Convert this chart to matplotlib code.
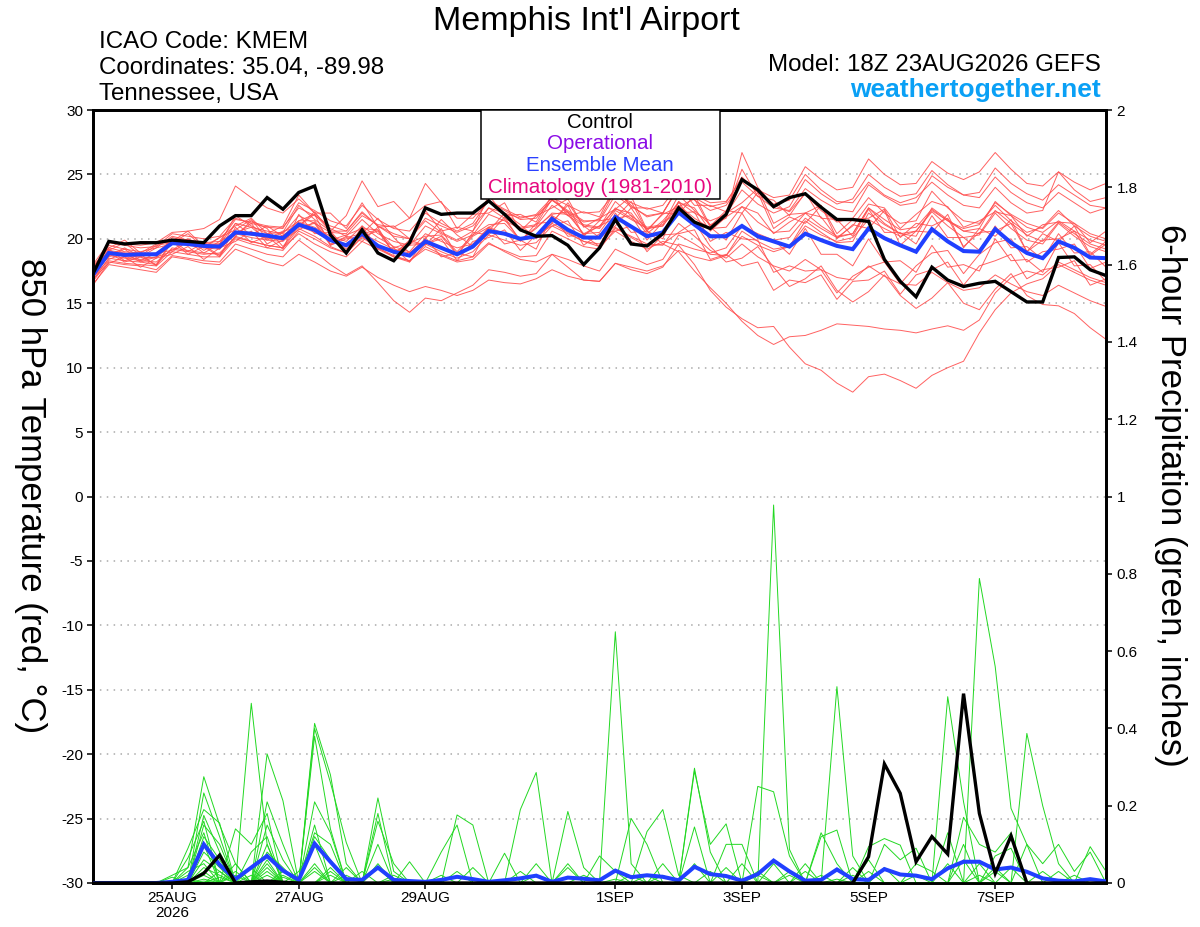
import numpy as np
import matplotlib.pyplot as plt
from matplotlib.patches import Rectangle

plt.rcParams['font.family'] = ['Liberation Sans', 'DejaVu Sans']

# x axis: 6-hourly steps starting 18Z 23AUG2026 (65 steps)
tick_steps = [5, 13, 21, 33, 41, 49, 57]
tick_labels = ['25AUG\n2026', '27AUG', '29AUG', '1SEP', '3SEP', '5SEP', '7SEP']
temp_ticks = [-30, -25, -20, -15, -10, -5, 0, 5, 10, 15, 20, 25, 30]
precip_ticks = [0, 0.2, 0.4, 0.6, 0.8, 1.0, 1.2, 1.4, 1.6, 1.8, 2.0]
precip_labels = ['0', '0.2', '0.4', '0.6', '0.8', '1', '1.2', '1.4', '1.6', '1.8', '2']

# control run, 850 hPa temperature (C)
control_temp = [17.3,
    19.8, 19.6, 19.7, 19.7, 19.9, 19.8, 19.7, 21.0, 21.8, 21.8, 23.2, 22.3, 23.6, 24.1, 20.3, 18.9,
    20.7, 18.9, 18.3, 19.7, 22.4, 21.9, 22.0, 22.0, 22.95, 21.9, 20.7, 20.2, 20.25, 19.5, 18.0, 19.3,
    21.5, 19.6, 19.45, 20.4, 22.4, 21.3, 20.8, 21.9, 24.6, 23.8, 22.5, 23.2, 23.5, 22.45, 21.5, 21.5,
    21.35, 18.4, 16.7, 15.5, 17.8, 16.8, 16.3, 16.55, 16.7, 15.9, 15.1, 15.1, 18.55, 18.6, 17.6, 17.15]

# ensemble mean, 850 hPa temperature (C)
mean_temp = [17.2,
    18.9, 18.75, 18.8, 18.8, 19.66, 19.6, 19.45, 19.4, 20.5, 20.4, 20.25, 20.05, 21.1, 20.7, 19.9, 19.5,
    20.4, 19.45, 19.0, 18.7, 19.8, 19.3, 18.8, 19.4, 20.6, 20.4, 20.0, 20.2, 21.55, 20.7, 20.1, 20.1,
    21.7, 20.95, 20.2, 20.5, 22.05, 21.1, 20.2, 20.2, 21.0, 20.2, 19.8, 19.4, 20.4, 19.9, 19.45, 19.2,
    20.8, 20.05, 19.5, 19.0, 20.75, 19.8, 19.05, 19.0, 20.75, 19.7, 18.9, 18.5, 19.8, 19.3, 18.55, 18.5]

# ensemble members, 850 hPa temperature (C)
mem01_temp = [17.5,
    19.5, 19.2, 19.0, 19.3, 20.2, 19.9, 19.7, 19.8, 21.5, 21.3, 21.0, 20.9, 22.4, 21.8, 21.0, 20.6,
    22.0, 21.0, 20.4, 20.0, 21.6, 21.0, 20.5, 21.0, 22.4, 22.0, 21.6, 21.9, 23.2, 22.6, 22.0, 22.1,
    23.6, 22.8, 22.3, 22.6, 24.2, 23.4, 22.8, 22.9, 24.6, 23.8, 23.2, 23.4, 25.6, 24.6, 23.8, 24.0,
    26.2, 25.0, 24.2, 24.3, 26.0, 25.1, 24.6, 25.2, 26.7, 25.4, 24.3, 24.1, 25.2, 24.4, 23.8, 24.3]
mem02_temp = [17.0,
    18.4, 18.9, 18.2, 18.6, 19.0, 19.8, 18.9, 19.6, 20.3, 21.2, 19.6, 20.3, 21.0, 21.9, 19.5, 20.2,
    19.8, 20.9, 18.8, 19.9, 19.5, 20.8, 18.7, 20.5, 20.3, 21.7, 19.8, 21.2, 21.3, 22.6, 20.2, 21.4,
    21.6, 22.9, 20.6, 22.0, 21.9, 23.4, 21.0, 22.2, 22.0, 23.6, 20.8, 21.7, 21.2, 22.6, 20.0, 21.1,
    20.8, 22.2, 19.5, 20.6, 20.5, 21.9, 19.3, 20.8, 20.2, 21.5, 19.0, 20.4, 19.8, 21.0, 18.8, 19.8]
mem03_temp = [16.4,
    18.2, 18.0, 17.9, 17.6, 18.7, 18.5, 18.3, 18.2, 19.6, 19.2, 18.8, 18.6, 19.9, 19.0, 18.0, 17.2,
    17.9, 16.6, 15.2, 14.3, 15.4, 15.2, 15.8, 16.4, 17.6, 17.4, 17.1, 17.3, 18.8, 18.4, 17.9, 17.5,
    19.2, 18.6, 18.0, 18.4, 20.3, 19.6, 18.8, 18.7, 20.6, 19.8, 19.2, 19.4, 21.4, 20.5, 19.7, 19.8,
    22.0, 21.1, 20.4, 20.2, 22.4, 21.5, 20.6, 20.4, 22.2, 21.2, 20.3, 19.8, 21.3, 20.4, 19.6, 19.2]
mem04_temp = [17.8,
    19.3, 19.0, 18.9, 18.8, 19.8, 19.6, 19.4, 19.3, 20.6, 20.3, 20.1, 19.9, 21.3, 20.9, 20.2, 19.8,
    21.0, 20.1, 19.4, 19.0, 20.4, 19.8, 19.3, 19.6, 20.9, 20.4, 20.0, 20.1, 21.2, 20.5, 19.8, 19.4,
    20.6, 19.8, 19.2, 19.8, 19.5, 18.0, 16.0, 14.7, 13.8, 13.1, 13.2, 11.6, 10.3, 9.8, 8.8, 8.1,
    9.3, 9.5, 9.0, 8.4, 9.4, 10.0, 10.5, 12.7, 14.5, 15.8, 16.5, 16.9, 18.0, 17.4, 16.8, 16.4]
mem05_temp = [16.8,
    18.5, 18.3, 18.2, 18.0, 19.3, 19.1, 18.9, 18.8, 20.2, 19.8, 19.5, 19.3, 20.8, 20.2, 19.4, 18.9,
    20.2, 19.3, 18.6, 18.2, 19.6, 19.0, 18.5, 19.0, 20.3, 19.9, 19.5, 19.7, 21.0, 20.4, 19.8, 19.6,
    20.9, 20.1, 19.4, 19.6, 19.0, 17.5, 16.2, 15.0, 13.6, 12.5, 11.8, 12.4, 12.5, 12.9, 13.4, 13.3,
    13.2, 13.0, 12.9, 12.7, 13.0, 13.25, 12.9, 13.7, 15.8, 17.0, 17.5, 17.2, 18.2, 17.6, 17.0, 16.6]
mem06_temp = [17.3,
    18.6, 19.2, 18.3, 18.9, 19.1, 20.0, 19.5, 18.7, 20.2, 21.4, 20.8, 19.4, 21.0, 22.1, 20.6, 19.2,
    20.4, 21.6, 20.1, 18.9, 20.0, 21.5, 20.3, 19.4, 20.6, 22.0, 21.1, 20.0, 21.2, 22.8, 21.0, 20.1,
    21.0, 22.4, 20.6, 19.6, 20.5, 21.3, 19.4, 18.2, 18.5, 19.4, 17.8, 16.3, 16.9, 17.9, 16.0, 15.1,
    15.9, 17.2, 15.6, 14.6, 15.4, 16.6, 15.0, 14.5, 16.1, 17.3, 15.6, 14.9, 14.8, 14.2, 13.1, 12.2]
mem07_temp = [17.6,
    19.8, 19.6, 19.5, 19.7, 20.5, 20.6, 20.8, 21.5, 24.1, 23.2, 22.4, 22.0, 23.1, 22.0, 20.8, 20.2,
    21.5, 20.4, 19.8, 19.5, 21.0, 20.4, 19.8, 20.3, 21.9, 21.4, 20.8, 21.0, 22.6, 21.8, 21.0, 20.8,
    22.4, 21.6, 20.8, 21.0, 22.6, 21.6, 20.8, 20.9, 22.5, 21.3, 20.5, 20.6, 22.0, 21.0, 20.2, 20.4,
    22.4, 21.2, 20.4, 20.6, 22.1, 21.0, 20.1, 20.3, 22.0, 20.8, 19.9, 19.6, 21.2, 20.2, 19.4, 19.0]
mem08_temp = [17.1,
    18.9, 18.2, 18.6, 18.0, 19.9, 19.0, 19.7, 19.2, 21.2, 20.3, 21.0, 20.2, 21.4, 21.9, 20.6, 21.8,
    24.5, 22.5, 22.9, 21.6, 22.6, 22.9, 20.8, 21.9, 22.0, 22.8, 20.6, 21.8, 22.4, 23.1, 20.9, 21.6,
    22.3, 23.3, 20.7, 21.9, 22.5, 23.1, 20.9, 22.0, 22.8, 23.9, 21.2, 21.9, 22.0, 22.6, 20.4, 21.5,
    21.6, 22.3, 20.1, 21.2, 21.0, 21.6, 19.4, 20.5, 20.6, 21.2, 19.0, 19.9, 20.0, 20.6, 18.7, 19.6]
mem09_temp = [17.4,
    19.1, 18.9, 18.8, 18.9, 19.9, 19.8, 19.6, 19.6, 21.2, 20.9, 20.6, 20.4, 21.8, 21.2, 20.5, 20.4,
    21.8, 21.1, 20.9, 21.6, 24.3, 22.8, 21.6, 21.6, 22.9, 22.2, 21.5, 21.6, 23.0, 22.1, 21.3, 21.5,
    23.8, 22.6, 21.7, 22.0, 24.0, 23.0, 22.2, 22.6, 24.4, 23.3, 22.4, 22.2, 23.9, 23.0, 22.3, 22.1,
    24.2, 23.3, 22.6, 22.8, 24.9, 24.0, 23.4, 23.2, 24.8, 23.6, 22.8, 22.4, 23.6, 22.8, 22.0, 22.4]
mem10_temp = [16.5,
    18.0, 17.8, 17.6, 17.4, 18.6, 18.4, 18.1, 18.0, 19.2, 18.7, 18.2, 17.9, 18.8, 18.2, 17.5, 17.1,
    17.8, 17.0, 16.4, 15.9, 16.3, 16.0, 15.6, 16.0, 16.8, 16.6, 16.5, 16.9, 17.6, 17.1, 16.8, 16.7,
    18.1, 17.8, 17.5, 17.9, 19.1, 18.6, 18.3, 18.7, 20.2, 19.5, 19.0, 19.4, 21.0, 20.3, 19.8, 20.1,
    21.5, 20.8, 20.2, 20.6, 22.2, 21.4, 20.8, 21.1, 22.8, 21.9, 21.2, 20.8, 22.0, 21.2, 20.4, 20.0]
mem11_temp = [17.0,
    19.0, 18.6, 18.4, 18.6, 20.1, 19.8, 19.5, 19.6, 21.8, 21.0, 20.4, 20.5, 22.6, 21.5, 20.6, 20.6,
    22.1, 21.0, 20.2, 20.0, 21.4, 20.5, 19.9, 20.6, 22.4, 21.6, 20.9, 21.1, 23.1, 22.0, 21.1, 20.9,
    22.9, 21.8, 20.9, 21.1, 23.4, 22.2, 21.1, 21.6, 26.7, 24.0, 22.6, 22.1, 23.5, 22.2, 21.3, 21.6,
    23.2, 22.0, 21.2, 21.4, 23.7, 22.4, 21.4, 21.2, 22.6, 21.4, 20.5, 20.9, 22.2, 21.0, 20.2, 19.8]
mem12_temp = [17.9,
    19.3, 19.9, 18.9, 19.6, 19.8, 20.6, 19.4, 20.1, 20.7, 21.5, 20.0, 20.6, 20.9, 21.2, 19.5, 20.0,
    20.2, 20.6, 18.9, 19.7, 19.6, 20.0, 18.3, 19.8, 20.1, 20.7, 19.1, 20.3, 21.0, 21.4, 19.5, 20.4,
    20.6, 21.0, 19.0, 20.3, 20.4, 20.7, 18.4, 18.8, 17.9, 18.2, 16.0, 16.8, 16.6, 17.2, 15.3, 16.7,
    16.8, 17.5, 15.7, 17.2, 17.6, 18.2, 16.4, 17.9, 18.3, 18.8, 16.9, 17.6, 17.8, 18.3, 16.4, 16.9]
mem13_temp = [17.2,
    18.8, 18.7, 18.6, 18.5, 19.7, 19.5, 19.3, 19.2, 20.4, 20.1, 19.9, 19.8, 21.0, 20.5, 19.9, 19.6,
    20.4, 19.8, 19.2, 18.9, 19.9, 19.3, 18.9, 19.5, 20.8, 20.3, 19.9, 20.1, 21.8, 21.1, 20.4, 20.5,
    22.2, 21.5, 20.8, 21.0, 22.9, 22.0, 21.4, 21.9, 23.8, 22.7, 22.0, 22.5, 24.6, 23.5, 22.7, 23.1,
    25.0, 24.0, 23.3, 23.5, 25.3, 24.2, 23.4, 23.6, 25.5, 24.3, 23.5, 23.0, 24.2, 23.4, 22.6, 22.4]
mem14_temp = [16.9,
    18.1, 18.6, 17.8, 18.5, 18.8, 19.4, 18.4, 19.3, 19.8, 20.6, 19.3, 19.9, 20.7, 21.3, 19.6, 20.1,
    20.4, 20.7, 18.9, 19.5, 19.6, 20.2, 18.8, 20.2, 20.9, 21.5, 19.9, 20.9, 21.9, 22.1, 20.3, 21.0,
    21.6, 21.8, 19.9, 21.3, 22.0, 22.1, 19.8, 20.5, 20.0, 19.9, 17.4, 17.9, 17.5, 17.6, 15.8, 17.1,
    17.8, 18.2, 16.5, 17.9, 18.9, 19.1, 17.3, 18.8, 19.7, 20.0, 18.2, 19.0, 19.2, 19.6, 17.7, 18.2]
mem15_temp = [18.0,
    19.7, 19.5, 19.3, 19.4, 20.4, 20.2, 20.0, 20.2, 21.6, 21.2, 20.9, 20.8, 22.8, 22.2, 21.4, 21.0,
    22.6, 21.5, 20.8, 20.6, 22.0, 21.2, 20.6, 21.2, 23.0, 22.3, 21.7, 21.8, 23.0, 22.2, 21.4, 21.4,
    23.4, 22.5, 21.8, 22.0, 24.0, 23.2, 22.5, 22.8, 24.8, 23.6, 22.7, 23.0, 25.0, 23.8, 22.9, 22.8,
    24.4, 23.4, 22.8, 23.2, 24.4, 23.4, 22.6, 22.4, 24.0, 22.8, 22.0, 22.2, 25.2, 23.8, 22.9, 23.2]
mem16_temp = [17.4,
    19.2, 18.3, 18.8, 17.9, 19.8, 18.8, 19.4, 18.6, 20.9, 19.7, 20.2, 19.2, 21.9, 20.4, 20.5, 19.0,
    21.0, 19.2, 19.3, 18.2, 20.1, 18.6, 18.9, 18.6, 20.9, 19.6, 19.9, 19.2, 21.8, 20.2, 20.3, 19.4,
    22.0, 20.5, 20.6, 20.0, 22.9, 21.0, 20.9, 19.9, 22.0, 20.0, 19.9, 18.8, 20.8, 18.8, 18.8, 17.9,
    20.0, 18.2, 18.3, 17.4, 19.5, 17.8, 18.0, 17.5, 20.0, 18.3, 18.4, 17.4, 19.7, 17.9, 18.0, 16.7]
mem17_temp = [16.7,
    18.3, 18.1, 18.0, 17.9, 19.0, 18.8, 18.6, 18.6, 20.0, 19.6, 19.3, 19.1, 20.6, 20.0, 19.3, 18.9,
    20.1, 19.3, 18.7, 18.3, 19.4, 18.8, 18.3, 18.6, 19.7, 19.0, 18.4, 18.2, 18.8, 17.8, 16.8, 16.7,
    18.1, 17.6, 17.3, 17.8, 19.6, 19.2, 18.9, 19.3, 21.0, 20.4, 19.9, 20.1, 21.6, 20.8, 20.1, 20.4,
    22.4, 21.5, 20.7, 20.9, 22.3, 21.4, 20.6, 20.8, 22.9, 21.8, 20.9, 20.5, 21.4, 20.6, 19.9, 19.5]
mem18_temp = [17.6,
    19.1, 19.7, 18.7, 19.5, 19.7, 20.4, 19.3, 20.1, 21.0, 21.6, 20.4, 21.0, 23.4, 22.0, 22.0, 20.8,
    22.8, 20.9, 21.0, 20.0, 22.2, 20.6, 20.9, 20.6, 23.4, 21.8, 21.9, 21.3, 23.4, 21.8, 22.1, 21.7,
    24.2, 22.4, 22.4, 22.0, 24.05, 22.6, 22.6, 22.1, 25.4, 23.3, 23.0, 21.8, 23.6, 21.6, 21.5, 20.2,
    22.3, 20.5, 20.5, 19.6, 21.8, 20.1, 20.1, 19.1, 21.0, 19.3, 19.4, 18.4, 20.4, 18.9, 19.0, 17.8]
mem19_temp = [17.0,
    18.7, 18.5, 18.3, 18.2, 19.2, 19.0, 18.8, 18.9, 20.1, 19.8, 19.5, 19.3, 20.4, 19.6, 19.0, 18.6,
    19.8, 19.2, 18.6, 18.3, 19.2, 18.7, 18.2, 18.4, 19.6, 19.1, 18.6, 18.7, 20.6, 20.0, 19.4, 19.2,
    20.8, 20.2, 19.6, 19.5, 21.2, 20.2, 19.1, 18.5, 19.6, 18.6, 17.9, 17.5, 18.4, 17.6, 17.0, 16.8,
    17.9, 17.1, 16.5, 16.4, 17.4, 16.6, 16.0, 16.2, 17.2, 16.5, 15.9, 15.6, 16.4, 15.8, 15.2, 14.75]
mem20_temp = [17.3,
    18.7, 19.3, 18.6, 19.3, 19.6, 20.0, 19.1, 19.8, 20.5, 20.9, 19.9, 20.5, 21.4, 21.4, 19.9, 20.3,
    20.8, 20.7, 19.3, 19.7, 20.2, 20.3, 19.0, 20.3, 21.1, 21.2, 19.9, 20.8, 22.0, 21.9, 20.4, 21.0,
    22.3, 22.0, 20.4, 21.4, 22.8, 22.4, 20.6, 21.7, 22.5, 22.0, 20.4, 21.3, 22.0, 21.7, 20.1, 21.0,
    22.7, 22.4, 20.8, 21.9, 22.9, 22.5, 20.9, 21.4, 22.1, 21.8, 20.2, 21.1, 21.3, 21.2, 19.7, 20.6]

# control run, 6-hour precipitation (inches)
control_prcp = [
    0, 0, 0, 0, 0, 0, .003, .025, .072, 0, .003, .005, .002,
    0, 0, 0, 0, 0, 0, 0, 0, 0, 0, 0, 0, 0,
    0, 0, 0, 0, 0, 0, 0, 0, 0, 0, 0, 0, 0,
    0, 0, 0, 0, 0, 0, 0, 0, 0, 0, .068, .308, .232,
    .055, .12, .075, .49, .18, .025, .122, 0, 0, 0, 0, 0, 0]

# ensemble mean, 6-hour precipitation (inches)
mean_prcp = [
    0, 0, 0, 0, 0, .003, .008, .1, .047, .01, .04, .07, .032,
    .008, .102, .055, .01, .008, .04, .008, .005, .003, .008, .016, .01, .003,
    .007, .012, .019, .003, .014, .011, .007, .032, .015, .02, .016, .007, .042,
    .023, .018, .006, .023, .058, .03, .006, .008, .035, .01, .008, .036, .022,
    .019, .01, .038, .055, .055, .035, .04, .029, .012, .006, .004, .01, .004]

# ensemble members, 6-hour precipitation (inches)
mem01_prcp = [
    0, 0, 0, 0, 0, 0, .04, .275, .15, .05, 0, 0, 0,
    0, .413, .28, .05, 0, .22, .03, 0, 0, 0, 0, 0, 0,
    0, 0, 0, 0, 0, 0, 0, .65, .05, 0, 0, 0, 0,
    0, 0, 0, 0, 0, 0, 0, 0, 0, 0, 0, 0, 0,
    0, 0, 0, 0, 0, 0, 0, 0, 0, 0, 0, 0, 0]
mem02_prcp = [
    0, 0, 0, 0, 0, 0, 0, .233, .12, 0, .465, .1, 0,
    0, .4, .26, .105, 0, 0, 0, 0, 0, 0, .176, .15, 0,
    0, 0, 0, 0, 0, 0, 0, 0, 0, 0, 0, 0, .297,
    .08, 0, 0, 0, 0, 0, 0, 0, 0, 0, 0, 0, 0,
    0, 0, 0, 0, 0, 0, 0, 0, 0, 0, 0, 0, 0]
mem03_prcp = [
    0, 0, 0, 0, 0, 0, .09, .19, .155, 0, 0, .334, .213,
    0, .38, .14, 0, 0, .18, 0, 0, 0, 0, 0, 0, 0,
    0, 0, 0, 0, 0, 0, 0, 0, 0, 0, 0, 0, 0,
    0, 0, 0, 0, .978, .087, 0, 0, 0, 0, 0, 0, 0,
    0, 0, 0, 0, 0, 0, 0, 0, 0, 0, 0, 0, 0]
mem04_prcp = [
    0, 0, 0, 0, 0, 0, 0, .175, .08, 0, 0, .21, .1,
    0, .21, .13, 0, 0, 0, 0, 0, 0, 0, 0, 0, 0,
    0, .19, .286, 0, 0, 0, 0, 0, 0, 0, 0, 0, 0,
    0, 0, 0, 0, 0, 0, 0, 0, 0, 0, 0, 0, 0,
    0, 0, 0, 0, .788, .56, .193, .1, 0, 0, 0, 0, 0]
mem05_prcp = [
    0, 0, 0, 0, 0, 0, .065, .16, 0, .14, .1, .18, 0,
    0, .15, 0, 0, 0, .16, .05, 0, 0, 0, 0, 0, 0,
    0, 0, 0, 0, 0, 0, 0, 0, 0, 0, 0, 0, 0,
    0, 0, 0, 0, 0, 0, 0, 0, .508, .07, 0, 0, 0,
    0, 0, .13, 0, 0, 0, 0, 0, 0, 0, 0, 0, 0]
mem06_prcp = [
    0, 0, 0, 0, 0, 0, 0, .15, .1, 0, 0, .15, .06,
    0, .13, .1, 0, 0, 0, 0, 0, 0, 0, 0, 0, 0,
    0, 0, 0, 0, .185, .04, 0, 0, 0, 0, 0, 0, 0,
    0, 0, 0, .25, .236, .07, 0, 0, 0, 0, 0, 0, 0,
    0, 0, 0, 0, 0, 0, 0, 0, 0, 0, 0, 0, 0]
mem07_prcp = [
    0, 0, 0, 0, 0, .02, .04, .13, 0, 0, .08, .12, 0,
    0, .12, .06, 0, 0, .1, 0, 0, 0, .08, .15, 0, 0,
    0, 0, 0, 0, 0, 0, 0, 0, 0, 0, 0, 0, 0,
    0, 0, 0, 0, 0, 0, 0, 0, 0, 0, 0, 0, 0,
    0, 0, .482, .21, 0, 0, 0, 0, 0, 0, 0, 0, 0]
mem08_prcp = [
    0, 0, 0, 0, 0, 0, 0, .12, .06, 0, 0, .1, 0,
    .03, .1, 0, .04, 0, 0, 0, .055, 0, 0, 0, 0, 0,
    0, 0, 0, 0, 0, 0, 0, 0, 0, .133, .19, .02, 0,
    0, 0, 0, 0, 0, 0, 0, 0, 0, 0, 0, 0, 0,
    0, 0, 0, 0, 0, 0, 0, .387, .2, .05, 0, 0, 0]
mem09_prcp = [
    0, 0, 0, 0, 0, 0, .02, .1, 0, .05, 0, .08, .04,
    0, .05, 0, 0, .03, 0, 0, 0, 0, 0, 0, 0, 0,
    .077, 0, 0, 0, 0, 0, 0, 0, .167, .1, 0, 0, .29,
    .1, .153, 0, 0, 0, 0, 0, 0, 0, 0, 0, 0, 0,
    0, 0, 0, 0, 0, 0, 0, 0, 0, 0, 0, 0, 0]
mem10_prcp = [
    0, 0, 0, 0, 0, 0, 0, .08, .04, 0, 0, .06, 0,
    0, 0, .04, 0, 0, .05, 0, 0, 0, 0, 0, 0, 0,
    0, 0, 0, 0, 0, 0, .07, .03, 0, 0, 0, 0, .145,
    0, .1, .1, 0, 0, 0, 0, .12, .137, 0, .094, .115, .098,
    0, 0, 0, 0, 0, 0, 0, 0, 0, 0, 0, 0, 0]
mem11_prcp = [
    0, 0, 0, 0, 0, 0, 0, .06, .03, 0, 0, .05, 0,
    0, .03, 0, 0, 0, 0, 0, 0, 0, 0, 0, 0, 0,
    0, 0, 0, 0, .05, 0, 0, 0, 0, 0, .05, 0, 0,
    0, 0, .05, 0, 0, 0, 0, .13, .05, 0, 0, .1, .06,
    .09, 0, 0, .17, .1, .08, .13, 0, 0, 0, 0, 0, 0]
mem12_prcp = [
    0, 0, 0, 0, 0, 0, .03, .05, 0, 0, .04, 0, .03,
    0, 0, 0, 0, 0, 0, .02, 0, 0, 0, 0, 0, 0,
    0, 0, 0, 0, .04, 0, 0, 0, 0, 0, 0, 0, .05,
    0, 0, 0, .03, 0, 0, 0, 0, 0, 0, .06, 0, 0,
    .05, .03, 0, .1, 0, .07, .09, 0, 0, 0, 0, .094, .03]
mem13_prcp = [
    0, 0, 0, 0, 0, 0, 0, .04, .02, 0, 0, .04, 0,
    0, 0, 0, 0, 0, 0, 0, 0, 0, 0, 0, 0, 0,
    0, 0, .05, 0, 0, 0, 0, 0, 0, 0, 0, 0, 0,
    0, 0, 0, 0, .05, 0, 0, 0, 0, .04, 0, 0, 0,
    0, 0, 0, 0, .05, 0, 0, .1, .05, .1, .03, .08, 0]
mem14_prcp = [
    0, 0, 0, 0, 0, .015, 0, .03, 0, .03, 0, 0, 0,
    0, 0, .03, 0, 0, 0, 0, 0, 0, 0, 0, .04, 0,
    0, 0, 0, 0, 0, 0, 0, 0, .02, 0, 0, 0, 0,
    0, 0, 0, 0, 0, .03, 0, 0, 0, 0, 0, 0, 0,
    0, 0, 0, 0, 0, .04, 0, 0, 0, .03, 0, 0, 0]
mem15_prcp = [
    0, 0, 0, 0, 0, 0, 0, .02, 0, 0, 0, .03, 0,
    0, 0, 0, .02, 0, 0, 0, 0, 0, .02, 0, 0, 0,
    0, 0, 0, 0, 0, 0, 0, 0, 0, 0, 0, 0, 0,
    .03, 0, 0, 0, 0, 0, .05, 0, 0, 0, 0, 0, 0,
    0, 0, .05, 0, 0, 0, .04, 0, 0, 0, 0, 0, 0]
mem16_prcp = [
    0, 0, 0, 0, 0, 0, .01, 0, .015, 0, 0, 0, .02,
    0, .04, 0, 0, 0, 0, 0, 0, 0, 0, 0, 0, 0,
    0, 0, 0, 0, 0, .02, 0, 0, 0, 0, 0, 0, 0,
    0, .04, 0, 0, 0, 0, .03, 0, 0, 0, 0, .04, 0,
    0, 0, 0, .06, 0, 0, 0, 0, 0, 0, 0, 0, 0]
mem17_prcp = [
    0, 0, 0, 0, 0, 0, 0, .01, 0, 0, .02, 0, 0,
    0, 0, 0, 0, 0, .04, 0, 0, 0, 0, 0, 0, 0,
    0, .03, 0, 0, 0, 0, 0, 0, 0, 0, .02, 0, 0,
    0, 0, 0, 0, 0, .02, 0, 0, 0, 0, .03, 0, 0,
    0, 0, 0, 0, 0, 0, 0, 0, .03, 0, 0, 0, 0]
mem18_prcp = [
    0, 0, 0, 0, 0, 0, 0, 0, .03, 0, 0, 0, .015,
    0, 0, 0, 0, 0, 0, 0, 0, 0, 0, .03, 0, 0,
    0, 0, 0, 0, 0, 0, 0, 0, 0, .02, 0, 0, 0,
    0, 0, 0, 0, 0, 0, 0, .02, 0, 0, 0, 0, 0,
    .02, 0, 0, 0, 0, .03, 0, 0, 0, 0, 0, 0, 0]
mem19_prcp = [
    0, 0, 0, 0, 0, 0, 0, 0, 0, .02, 0, 0, 0,
    0, 0, .02, 0, 0, 0, 0, 0, 0, 0, 0, 0, 0,
    0, 0, .02, 0, 0, 0, 0, 0, 0, 0, 0, 0, 0,
    0, 0, 0, .02, 0, 0, 0, 0, 0, .02, 0, 0, 0,
    0, 0, 0, 0, 0, 0, 0, 0, 0, 0, .02, 0, 0]
mem20_prcp = [
    0, 0, 0, 0, 0, 0, 0, .005, 0, 0, 0, .02, 0,
    0, 0, 0, 0, 0, 0, .01, 0, 0, 0, 0, 0, 0,
    0, 0, 0, 0, 0, 0, 0, .01, 0, 0, 0, 0, 0,
    0, 0, 0, 0, 0, 0, 0, 0, .01, 0, 0, 0, 0,
    0, 0, 0, 0, .02, 0, 0, 0, 0, 0, 0, 0, 0]

member_temps = [mem01_temp, mem02_temp, mem03_temp, mem04_temp, mem05_temp,
                mem06_temp, mem07_temp, mem08_temp, mem09_temp, mem10_temp,
                mem11_temp, mem12_temp, mem13_temp, mem14_temp, mem15_temp,
                mem16_temp, mem17_temp, mem18_temp, mem19_temp, mem20_temp]
member_prcps = [mem01_prcp, mem02_prcp, mem03_prcp, mem04_prcp, mem05_prcp,
                mem06_prcp, mem07_prcp, mem08_prcp, mem09_prcp, mem10_prcp,
                mem11_prcp, mem12_prcp, mem13_prcp, mem14_prcp, mem15_prcp,
                mem16_prcp, mem17_prcp, mem18_prcp, mem19_prcp, mem20_prcp]

W, H = 1200, 927
fig = plt.figure(figsize=(W / 100, H / 100), dpi=100)


def fx(px):
    return px / W


def fy(py):
    return 1 - py / H


ax = fig.add_axes([fx(93), fy(883), (1106 - 93) / W, (883 - 110) / H])
ax2 = ax.twinx()

# temperature (left axis)
for t in member_temps:
    ax.plot(np.arange(len(t)), t, color='#ff5050', lw=0.7, alpha=0.9, zorder=2)
ax.plot(np.arange(len(mean_temp)), mean_temp, color='#2040ff', lw=2.9, zorder=3,
        solid_joinstyle='miter')
ax.plot(np.arange(len(control_temp)), control_temp, color='black', lw=2.4, zorder=4,
        solid_joinstyle='miter')

# precipitation (right axis)
for p in member_prcps:
    ax2.plot(np.arange(len(p)), p, color='#22d822', lw=0.7, zorder=2)
ax2.plot(np.arange(len(mean_prcp)), mean_prcp, color='#2040ff', lw=2.9, zorder=3,
         solid_joinstyle='miter')
ax2.plot(np.arange(len(control_prcp)), control_prcp, color='black', lw=2.4, zorder=4,
         solid_joinstyle='miter')

ax.set_xlim(0, 64)
ax.set_ylim(-30, 30)
ax2.set_ylim(0, 2)

ax.set_yticks(temp_ticks)
ax.set_yticklabels([str(v) for v in temp_ticks])
ax2.set_yticks(precip_ticks)
ax2.set_yticklabels(precip_labels)
ax.set_xticks(tick_steps)
ax.set_xticklabels(tick_labels, linespacing=1.1)

ax.grid(axis='y', color='#aaaaaa', linestyle=(0, (1, 3.5)), lw=1.1)
ax.set_axisbelow(True)

ax.tick_params(axis='y', direction='out', length=4.5, width=1.1, labelsize=11, pad=2.5)
ax.tick_params(axis='x', direction='out', length=4.5, width=1.1, labelsize=11, pad=1.5)
ax2.tick_params(axis='y', direction='out', length=4.5, width=1.1, labelsize=11, pad=3)

for a in (ax, ax2):
    for s in a.spines.values():
        s.set_linewidth(2.0)
        s.set_color('black')

# axis titles
fig.text(fx(30), fy(496), '850 hPa Temperature (red, °C)', rotation=-90,
         ha='center', va='center', fontsize=25)
fig.text(fx(1170), fy(495), '6-hour Precipitation (green, inches)', rotation=-90,
         ha='center', va='center', fontsize=25)

# header
fig.text(fx(586), fy(30), "Memphis Int'l Airport", ha='center', va='baseline', fontsize=24.5)
fig.text(fx(99), fy(48), 'ICAO Code: KMEM', ha='left', va='baseline', fontsize=17.4)
fig.text(fx(99), fy(74), 'Coordinates: 35.04, -89.98', ha='left', va='baseline', fontsize=17.4)
fig.text(fx(99), fy(100), 'Tennessee, USA', ha='left', va='baseline', fontsize=17.4)
fig.text(fx(1101), fy(71), 'Model: 18Z 23AUG2026 GEFS', ha='right', va='baseline', fontsize=17.4)
fig.text(fx(1101), fy(97), 'weathertogether.net', ha='right', va='baseline', fontsize=19,
         fontweight='bold', color='#0aa0f5')

# legend box
fig.add_artist(Rectangle((fx(480.5), fy(198.5)), (719.5 - 480.5) / W, (198.5 - 110) / H,
                         transform=fig.transFigure, facecolor='white', edgecolor='black',
                         lw=1.1, zorder=10))
legend_items = [('Control', 'black', 128), ('Operational', '#8a0ae6', 149),
                ('Ensemble Mean', '#2a40ff', 171), ('Climatology (1981-2010)', '#e6077f', 193)]
for label, color, yb in legend_items:
    fig.text(fx(600), fy(yb), label, ha='center', va='baseline', fontsize=14.8,
             color=color, zorder=11)

fig.savefig('out.png', dpi=100)
